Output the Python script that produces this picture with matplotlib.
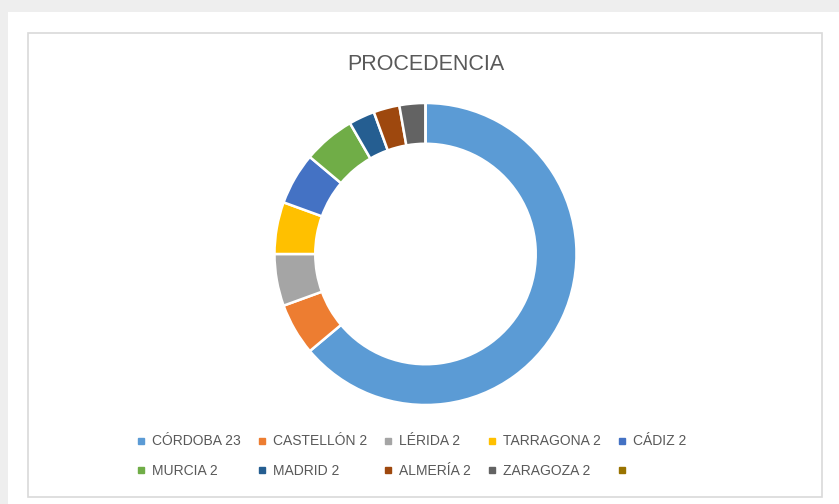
import matplotlib.pyplot as plt
from matplotlib.lines import Line2D
from matplotlib.patches import Rectangle

# provincias de procedencia
labels = ['CÓRDOBA 23', 'CASTELLÓN 2', 'LÉRIDA 2', 'TARRAGONA 2', 'CÁDIZ 2',
          'MURCIA 2', 'MADRID 2', 'ALMERÍA 2', 'ZARAGOZA 2', '']
values = [23, 2, 2, 2, 2, 2, 1, 1, 1, 0]
colors = ['#5B9BD5', '#ED7D31', '#A5A5A5', '#FFC000', '#4472C4',
          '#70AD47', '#255E91', '#9E480E', '#636363', '#997300']

plt.rcParams['font.family'] = ['Liberation Sans', 'DejaVu Sans']
W, H = 839, 504
fig = plt.figure(figsize=(W / 100, H / 100), dpi=100)
fig.patch.set_facecolor('#eeeeee')

# fondo blanco y marco del grafico
fig.patches.append(Rectangle((8 / W, 0), 1, 1 - 12 / H, transform=fig.transFigure,
                             facecolor='white', edgecolor='none', zorder=-2))
fig.patches.append(Rectangle((28 / W, 1 - 497 / H), (822 - 28) / W, (497 - 33) / H,
                             transform=fig.transFigure, facecolor='white',
                             edgecolor='#d9d9d9', linewidth=1.2, zorder=-1))

# anillo
cx, cy, r = 425.5, 254, 151
ax = fig.add_axes([(cx - r) / W, (H - cy - r) / H, 2 * r / W, 2 * r / H])
ax.pie(values, colors=colors, startangle=90, counterclock=False,
       wedgeprops=dict(width=0.27, edgecolor='white', linewidth=1.8))
ax.set_xlim(-1.0, 1.0)
ax.set_ylim(-1.0, 1.0)
ax.set_aspect('equal')
ax.axis('off')

fig.text(cx / W, 1 - 65 / H, 'PROCEDENCIA', ha='center', va='center',
         fontsize=15.5, color='#595959')

# leyenda por filas (el legend de matplotlib rellena por columnas)
handles = [Line2D([], [], marker='s', linestyle='none', markersize=4.5,
                  markerfacecolor=c, markeredgecolor=c) for c in colors]
order = [0, 5, 1, 6, 2, 7, 3, 8, 4, 9]
fig.legend([handles[i] for i in order], [labels[i] for i in order], ncol=5,
           loc='center', bbox_to_anchor=(411 / W, 1 - 456 / H),
           frameon=False, fontsize=10, labelcolor='#595959', handlelength=0.8,
           handletextpad=0.4, columnspacing=1.1, labelspacing=1.1)

fig.savefig('out.png', dpi=100, facecolor=fig.get_facecolor())
